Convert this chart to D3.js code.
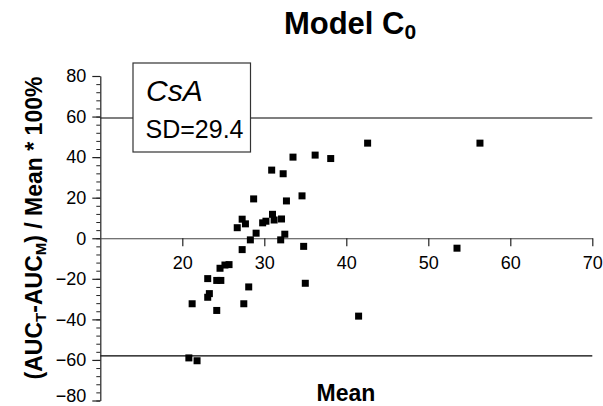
<!DOCTYPE html>
<html>
<head>
<meta charset="utf-8">
<script src="https://cdn.jsdelivr.net/npm/d3@7"></script>
<style>
  html, body { margin: 0; padding: 0; background: #fff; }
  svg { display: block; font-family: "Liberation Sans", Arial, sans-serif; }
</style>
</head>
<body>
<svg id="chart" width="603" height="406"></svg>
<script>
// ---- data ----
const meanValues = [42.6, 33.5, 36.2, 38.1, 30.9, 32.3, 28.7, 32.7, 34.6, 27.3,
                    27.7, 26.7, 29.8, 30.2, 31.0, 31.2, 32.1, 29.0, 28.3, 32.5,
                    32.0, 34.8, 27.3, 24.6, 25.2, 25.7, 23.1, 24.2, 24.7, 28.1,
                    35.0, 23.3, 23.1, 21.2, 27.5, 24.2, 20.8, 21.8, 41.5, 53.5, 56.3];
const diffValues = [46.9, 40.0, 41.0, 39.3, 33.6, 31.8, 19.4, 18.4, 20.9, 9.4,
                    7.1, 5.2, 7.6, 8.4, 11.8, 9.0, 9.5, 2.5, -0.8, 2.0,
                    -0.8, -4.0, -5.6, -14.8, -13.2, -13.0, -19.9, -20.8, -20.8, -24.0,
                    -22.2, -27.3, -29.1, -32.3, -32.3, -35.6, -59.0, -60.4, -38.4, -4.9, 46.9];
const limitLines = [59.3, -58.0];
const xTickValues = [20, 30, 40, 50, 60, 70];
const yTickValues = [-80, -60, -40, -20, 0, 20, 40, 60, 80];
const xDomain = [10, 70];
const yDomain = [-80, 80];
const titleMain = "Model C";
const titleSub = "0";
const legendName = "CsA";
const legendSD = "SD=29.4";

const points = meanValues.map((m, i) => ({ x: m, y: diffValues[i] }));

const svg = d3.select("#chart");
const pLeft = 100.3, pRight = 592.3, pTop = 76, pBottom = 400.5;

const x = d3.scaleLinear().domain(xDomain).range([pLeft, pRight]);
const y = d3.scaleLinear().domain(yDomain).range([pBottom, pTop]);

// limit lines
svg.selectAll("line.limit").data(limitLines).enter().append("line")
  .attr("class", "limit")
  .attr("x1", x(xDomain[0])).attr("x2", x(xDomain[1]))
  .attr("y1", d => y(d)).attr("y2", d => y(d))
  .attr("stroke", "#000").attr("stroke-width", 1.2);

// y axis minor ticks
const yMinor = d3.axisLeft(y).tickValues(d3.range(-80, 81, 4)).tickSize(4).tickFormat("");
svg.append("g").attr("transform", `translate(${pLeft},0)`).call(yMinor)
  .call(g => g.select(".domain").remove())
  .call(g => g.selectAll("line").attr("stroke", "#222").attr("stroke-width", 1));

// y axis
const yAxis = d3.axisLeft(y).tickValues(yTickValues).tickSize(8).tickSizeOuter(0).tickPadding(6);
svg.append("g").attr("transform", `translate(${pLeft},0)`).call(yAxis)
  .call(g => g.select(".domain").attr("stroke", "#222").attr("stroke-width", 1.2))
  .call(g => g.selectAll("line").attr("stroke", "#222").attr("stroke-width", 1.2))
  .call(g => g.selectAll("text").attr("font-size", 18).attr("fill", "#000")
           .attr("font-family", "'Liberation Sans', Arial, sans-serif")
           .attr("dy", d => d === yDomain[0] ? "0.05em" : "0.32em"));

// x axis at y = 0
const xAxis = d3.axisBottom(x).tickValues(xTickValues).tickSize(8).tickSizeOuter(0).tickPadding(10);
svg.append("g").attr("transform", `translate(0,${y(0)})`).call(xAxis)
  .call(g => g.select(".domain").attr("stroke", "#444").attr("stroke-width", 1.2))
  .call(g => g.selectAll("line").attr("stroke", "#222").attr("stroke-width", 1.2))
  .call(g => g.selectAll("text").attr("font-size", 18).attr("fill", "#000")
           .attr("font-family", "'Liberation Sans', Arial, sans-serif"));

// legend box
svg.append("rect").attr("x", 133).attr("y", 63).attr("width", 117.5).attr("height", 89)
  .attr("fill", "#fff").attr("stroke", "#333").attr("stroke-width", 1.2);
svg.append("text").attr("x", 146).attr("y", 101).attr("font-size", 30)
  .attr("font-style", "italic").text(legendName);
svg.append("text").attr("x", 145.5).attr("y", 137.5).attr("font-size", 25).text(legendSD);

// points
const sz = 7;
svg.selectAll("rect.pt").data(points).enter().append("rect")
  .attr("class", "pt")
  .attr("x", d => x(d.x) - sz / 2).attr("y", d => y(d.y) - sz / 2)
  .attr("width", sz).attr("height", sz).attr("fill", "#000");

// title
const t = svg.append("text").attr("x", 350).attr("y", 34).attr("text-anchor", "middle")
  .attr("font-size", 31).attr("font-weight", "bold");
t.append("tspan").text(titleMain);
t.append("tspan").attr("font-size", 21).attr("dy", 5).text(titleSub);

// x label
svg.append("text").attr("x", 346).attr("y", 401).attr("text-anchor", "middle")
  .attr("font-size", 23).attr("font-weight", "bold").text("Mean");

// y label
const yl = svg.append("text").attr("transform", "translate(42,228) rotate(-90)")
  .attr("text-anchor", "middle").attr("font-size", 23).attr("font-weight", "bold");
yl.append("tspan").text("(AUC");
yl.append("tspan").attr("font-size", 15).attr("dy", 4).text("T");
yl.append("tspan").attr("dy", -4).text("-AUC");
yl.append("tspan").attr("font-size", 15).attr("dy", 4).text("M");
yl.append("tspan").attr("dy", -4).text(") / Mean * 100%");
</script>
</body>
</html>
